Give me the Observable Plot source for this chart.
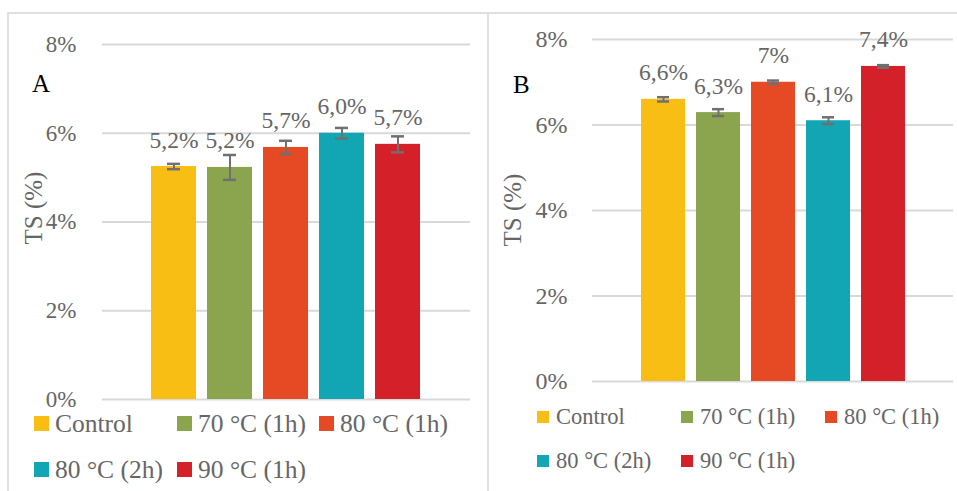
<!DOCTYPE html>
<html>
<head>
<meta charset="utf-8">
<script src="https://cdn.jsdelivr.net/npm/d3@7"></script>
<script src="https://cdn.jsdelivr.net/npm/@observablehq/plot@0.6"></script>
<style>
  html, body { margin: 0; padding: 0; background: #fff; }
  #root { position: relative; width: 957px; height: 491px; overflow: hidden; background: #fff; font-family: "Liberation Serif", serif; }
  .abs { position: absolute; }
  .line { position: absolute; background: #e0e0e0; }
  .ylab { position: absolute; transform: translate(-50%, -50%) rotate(-90deg); white-space: nowrap; line-height: 1; color: #666; font-size: 25px; }
  .plab { position: absolute; line-height: 1; color: #000; font-size: 25px; }
  .leg-item { position: absolute; display: flex; align-items: center; white-space: nowrap; color: #666; }
  .leg-sw { display: inline-block; flex: none; }
  svg { background: transparent !important; }
</style>
</head>
<body>
<div id="root"></div>
<script>
const categories = ["Control", "70 °C (1h)", "80 °C (1h)", "80 °C (2h)", "90 °C (1h)"];
const colors = ["#F9BE14", "#8AA54E", "#E54A24", "#12A6B5", "#D42029"];
const yTicks = [0, 2, 4, 6, 8];

const valuesA = [5.25, 5.23, 5.68, 6.0, 5.75];
const errorsA = [0.06, 0.28, 0.15, 0.12, 0.18];
const labelsA = ["5,2%", "5,2%", "5,7%", "6,0%", "5,7%"];

const valuesB = [6.60, 6.29, 7.0, 6.10, 7.37];
const errorsB = [0.05, 0.08, 0.04, 0.08, 0.03];
const labelsB = ["6,6%", "6,3%", "7%", "6,1%", "7,4%"];

const root = document.getElementById("root");

function makePanel(values, errors, labels, cfg) {
  const data = categories.map((c, i) => ({cat: c, v: values[i], lo: values[i] - errors[i], hi: values[i] + errors[i], label: labels[i]}));
  const chart = Plot.plot({
    width: cfg.width, height: cfg.height,
    marginTop: cfg.mt, marginBottom: cfg.mb, marginLeft: cfg.ml, marginRight: cfg.mr,
    style: {fontFamily: "Liberation Serif, serif", color: "#666", background: "transparent", overflow: "visible"},
    x: {domain: categories, range: cfg.xRange, padding: 0.2, axis: null},
    y: {domain: [0, 8]},
    color: {domain: categories, range: colors},
    marks: [
      Plot.gridY(yTicks, {stroke: "#d9d9d9", strokeOpacity: 1, strokeWidth: 2}),
      Plot.axisY(yTicks, {tickFormat: d => d + "%", tickSize: 0, tickPadding: cfg.tp, fontSize: cfg.tickFont, label: null, fill: "#666"}),
      Plot.barY(data, {x: "cat", y: "v", fill: "cat"}),
      Plot.ruleX(data, {x: "cat", y1: "lo", y2: "hi", stroke: "#707070", strokeWidth: 2}),
      Plot.tickY(data, {x: "cat", y: "lo", stroke: "#707070", strokeWidth: 2.5, insetLeft: 16, insetRight: 16}),
      Plot.tickY(data, {x: "cat", y: "hi", stroke: "#707070", strokeWidth: 2.5, insetLeft: 16, insetRight: 16}),
      Plot.text(data, {x: "cat", y: "v", text: "label", lineAnchor: "bottom", dy: -19, fontSize: cfg.labFont, fill: "#666"})
    ]
  });
  chart.style.position = "absolute";
  chart.style.left = cfg.left + "px";
  chart.style.top = "0px";
  chart.style.maxWidth = "none";
  root.appendChild(chart);
}

function addLine(l, t, w, h) {
  const d = document.createElement("div");
  d.className = "line";
  Object.assign(d.style, {left: l + "px", top: t + "px", width: w + "px", height: h + "px"});
  root.appendChild(d);
}
function addText(cls, txt, l, t, extra) {
  const d = document.createElement("div");
  d.className = cls;
  d.textContent = txt;
  d.style.left = l + "px";
  d.style.top = t + "px";
  if (extra) Object.assign(d.style, extra);
  root.appendChild(d);
}
function addLegend(cols, rows, sw, gap, font) {
  categories.forEach((c, i) => {
    const item = document.createElement("div");
    item.className = "leg-item";
    const r = Math.floor(i / 3), k = i % 3;
    item.style.left = cols[k] + "px";
    item.style.top = rows[r] + "px";
    item.style.height = sw + "px";
    item.style.fontSize = font + "px";
    const s = document.createElement("span");
    s.className = "leg-sw";
    Object.assign(s.style, {width: sw + "px", height: sw + "px", background: colors[i], marginRight: gap + "px"});
    const t = document.createElement("span");
    t.textContent = c;
    t.style.lineHeight = "1";
    item.appendChild(s); item.appendChild(t);
    root.appendChild(item);
  });
}

// frame lines
addLine(8, 12, 949, 2);
addLine(7, 12, 2, 479);
addLine(487, 12, 2, 479);

makePanel(valuesA, errorsA, labelsA, {left: 0, width: 487, height: 410, mt: 44, mb: 11, ml: 102, mr: 17, xRange: [138.7, 432.3], tp: 26, tickFont: 23, labFont: 23.5});
makePanel(valuesB, errorsB, labelsB, {left: 489, width: 468, height: 395, mt: 39, mb: 14, ml: 103, mr: 4, xRange: [139.9, 428.1], tp: 25, tickFont: 24, labFont: 23.5});

addText("ylab", "TS (%)", 33, 208);
addText("ylab", "TS (%)", 512, 210);
addText("plab", "A", 32, 71);
addText("plab", "B", 513, 72);

addLegend([34, 177, 319], [416, 462], 15, 6, 25.5);
addLegend([537, 681, 825], [411, 455], 12, 7, 22.5);
</script>
</body>
</html>
